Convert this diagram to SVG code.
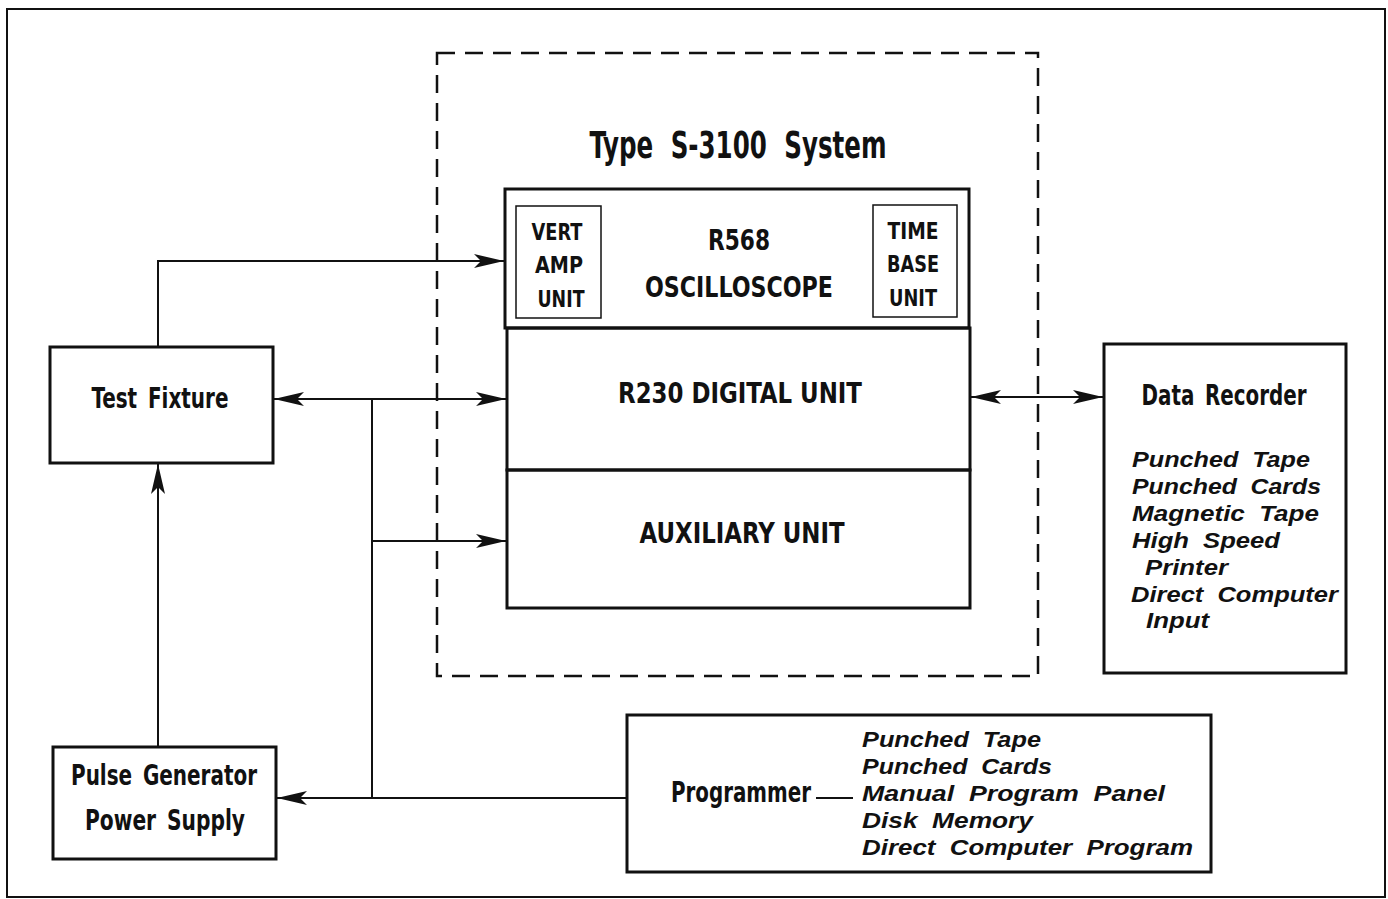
<svg xmlns="http://www.w3.org/2000/svg" width="1388" height="899" viewBox="0 0 1388 899">
<style>
.box{fill:none;stroke:#111;stroke-width:3}
.thin{fill:none;stroke:#111;stroke-width:1.5}
.ln{fill:none;stroke:#111;stroke-width:2}
.t{font-family:"DejaVu Sans Condensed","Liberation Sans",sans-serif;font-weight:bold;fill:#111;text-anchor:middle;word-spacing:5px}
.n{word-spacing:0px}
.i{font-family:"Liberation Sans","DejaVu Sans",sans-serif;font-weight:bold;font-style:italic;fill:#111;font-size:22px;word-spacing:6px}
</style>
<defs>
<marker id="ah" viewBox="0 0 30 14" refX="30" refY="7" markerWidth="30" markerHeight="14" markerUnits="userSpaceOnUse" orient="auto-start-reverse">
<path d="M0,0 L30,7 L0,14 L7,7 Z" fill="#111"/>
</marker>
</defs>
<rect width="1388" height="899" fill="#fff"/>
<rect x="7" y="9" width="1378" height="888" class="ln"/>
<g id="system">
<rect x="437" y="53" width="601" height="623" fill="none" stroke="#111" stroke-width="2.5" stroke-dasharray="18,10"/>
<text class="t" x="738" y="158" font-size="37" textLength="297" lengthAdjust="spacingAndGlyphs" style="word-spacing:12px">Type S-3100 System</text>
</g>
<g id="oscilloscope">
<rect x="505" y="189" width="464" height="139" class="box"/>
<rect x="516" y="206" width="85" height="112" class="thin"/>
<text class="t" x="557" y="240" font-size="23" textLength="51" lengthAdjust="spacingAndGlyphs">VERT</text>
<text class="t" x="559" y="273" font-size="23" textLength="48" lengthAdjust="spacingAndGlyphs">AMP</text>
<text class="t" x="561" y="307" font-size="23" textLength="47" lengthAdjust="spacingAndGlyphs">UNIT</text>
<text class="t" x="739" y="250" font-size="28" textLength="62" lengthAdjust="spacingAndGlyphs">R568</text>
<text class="t" x="739" y="297" font-size="28" textLength="188" lengthAdjust="spacingAndGlyphs">OSCILLOSCOPE</text>
<rect x="873" y="205" width="84" height="112" class="thin"/>
<text class="t" x="913" y="239" font-size="23" textLength="51" lengthAdjust="spacingAndGlyphs">TIME</text>
<text class="t" x="913" y="272" font-size="23" textLength="52" lengthAdjust="spacingAndGlyphs">BASE</text>
<text class="t" x="913" y="306" font-size="23" textLength="48" lengthAdjust="spacingAndGlyphs">UNIT</text>
</g>
<g id="digital">
<rect x="507" y="328" width="463" height="142" class="box"/>
<text class="t n" x="740" y="403" font-size="28" textLength="244" lengthAdjust="spacingAndGlyphs">R230 DIGITAL UNIT</text>
</g>
<g id="auxiliary">
<rect x="507" y="470" width="463" height="138" class="box"/>
<text class="t n" x="742" y="543" font-size="28" textLength="205" lengthAdjust="spacingAndGlyphs">AUXILIARY UNIT</text>
</g>
<g id="testfixture">
<rect x="50" y="347" width="223" height="116" class="box"/>
<text class="t" x="160" y="408" font-size="29" textLength="137" lengthAdjust="spacingAndGlyphs">Test Fixture</text>
</g>
<g id="pulsegen">
<rect x="53" y="747" width="223" height="112" class="box"/>
<text class="t" x="164" y="785" font-size="29" textLength="186" lengthAdjust="spacingAndGlyphs">Pulse Generator</text>
<text class="t" x="165" y="830" font-size="29" textLength="160" lengthAdjust="spacingAndGlyphs">Power Supply</text>
</g>
<g id="datarecorder">
<rect x="1104" y="344" width="242" height="329" class="box"/>
<text class="t" x="1224" y="405" font-size="29" textLength="165" lengthAdjust="spacingAndGlyphs">Data Recorder</text>
<text class="i" x="1132" y="467" textLength="178" lengthAdjust="spacingAndGlyphs">Punched Tape</text>
<text class="i" x="1132" y="494" textLength="189" lengthAdjust="spacingAndGlyphs">Punched Cards</text>
<text class="i" x="1132" y="521" textLength="187" lengthAdjust="spacingAndGlyphs">Magnetic Tape</text>
<text class="i" x="1132" y="548" textLength="148" lengthAdjust="spacingAndGlyphs">High Speed</text>
<text class="i" x="1145" y="575" textLength="83" lengthAdjust="spacingAndGlyphs">Printer</text>
<text class="i" x="1131" y="602" textLength="207" lengthAdjust="spacingAndGlyphs">Direct Computer</text>
<text class="i" x="1146" y="628" textLength="63" lengthAdjust="spacingAndGlyphs">Input</text>
</g>
<g id="programmer">
<rect x="627" y="715" width="584" height="157" class="box"/>
<text class="t" x="741" y="802" font-size="29" textLength="140" lengthAdjust="spacingAndGlyphs">Programmer</text>
<line x1="816" y1="798" x2="853" y2="798" stroke="#111" stroke-width="2"/>
<text class="i" x="862" y="747" textLength="179" lengthAdjust="spacingAndGlyphs">Punched Tape</text>
<text class="i" x="862" y="774" textLength="190" lengthAdjust="spacingAndGlyphs">Punched Cards</text>
<text class="i" x="862" y="801" textLength="303" lengthAdjust="spacingAndGlyphs">Manual Program Panel</text>
<text class="i" x="862" y="828" textLength="171" lengthAdjust="spacingAndGlyphs">Disk Memory</text>
<text class="i" x="862" y="855" textLength="331" lengthAdjust="spacingAndGlyphs">Direct Computer Program</text>
</g>
<g id="connectors">
<path d="M158,347 V261 H504" class="ln" marker-end="url(#ah)"/>
<path d="M274,399 H506" class="ln" marker-start="url(#ah)" marker-end="url(#ah)"/>
<path d="M372,399 V798" class="ln"/>
<path d="M372,541 H506" class="ln" marker-end="url(#ah)"/>
<path d="M627,798 H277" class="ln" marker-end="url(#ah)"/>
<path d="M158,747 V464" class="ln" marker-end="url(#ah)"/>
<path d="M971,397 H1103" class="ln" marker-start="url(#ah)" marker-end="url(#ah)"/>
</g>
</svg>
